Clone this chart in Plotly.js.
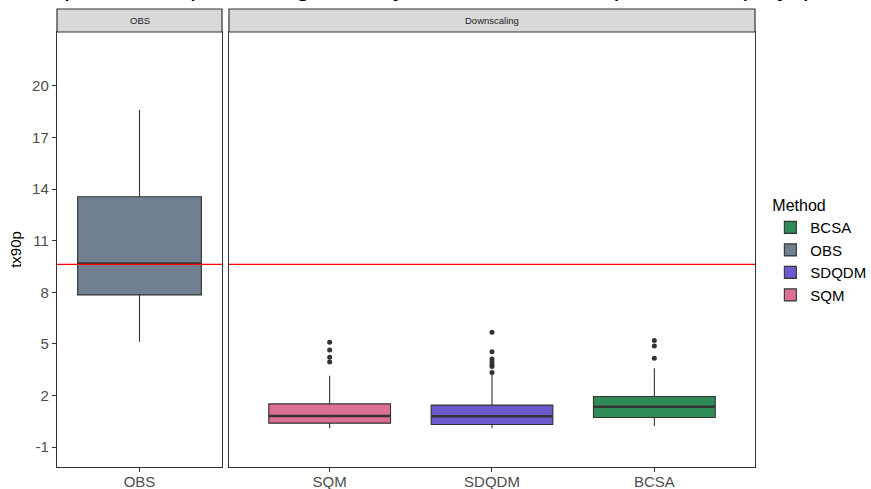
<!DOCTYPE html>
<html>
<head>
<meta charset="utf-8">
<script src="https://cdn.plot.ly/plotly-3.0.1.min.js"></script>
<style>html,body{margin:0;padding:0;background:#fff;}#chart{width:871px;height:489px;}</style>
</head>
<body>
<div id="chart"></div>
<script>
// ---- data ----
const methods   = ['OBS', 'SQM', 'SDQDM', 'BCSA'];
const panels    = ['OBS', 'Downscaling', 'Downscaling', 'Downscaling'];
const colors    = ['#708090', '#DB7093', '#6A5ACD', '#2E8B57'];
const lowerFence = [5.13, 0.10, 0.10, 0.23];
const q1Vals     = [7.85, 0.39, 0.31, 0.72];
const medianVals = [9.68, 0.81, 0.79, 1.34];
const q3Vals     = [13.56, 1.51, 1.44, 1.94];
const upperFence = [18.6, 3.14, 3.20, 3.59];
const outliers = {
  OBS:   [],
  SQM:   [5.10, 4.65, 4.23, 3.94],
  SDQDM: [5.68, 4.55, 4.12, 3.96, 3.82, 3.68, 3.34],
  BCSA:  [5.20, 4.88, 4.17]
};
const legendOrder = ['BCSA', 'OBS', 'SDQDM', 'SQM'];
const refValue = 9.62;   // red reference line (OBS median)
const yTicks = [-1, 2, 5, 8, 11, 14, 17, 20];
const obsCats  = ['OBS'];
const downCats = ['SQM', 'SDQDM', 'BCSA'];
const titleText = 'Comparison of percentage of days above the 90th percentile (days)';

// ---- traces ----
const traces = [];
methods.forEach((m, i) => {
  const xa = panels[i] === 'OBS' ? 'x' : 'x2';
  const ya = panels[i] === 'OBS' ? 'y' : 'y2';
  traces.push({
    type: 'box', name: m, x: [m], xaxis: xa, yaxis: ya,
    q1: [q1Vals[i]], median: [medianVals[i]], q3: [q3Vals[i]],
    lowerfence: [lowerFence[i]], upperfence: [upperFence[i]],
    boxpoints: false, whiskerwidth: 0, width: 0.75,
    fillcolor: colors[i], line: {color: '#333333', width: 1.1},
    legendrank: legendOrder.indexOf(m) + 1, hoverinfo: 'skip'
  });
  // thick median line (ggplot fatten)
  traces.push({
    type: 'box', name: m, x: [m], xaxis: xa, yaxis: ya,
    q1: [medianVals[i]], median: [medianVals[i]], q3: [medianVals[i]],
    lowerfence: [medianVals[i]], upperfence: [medianVals[i]],
    boxpoints: false, whiskerwidth: 0, width: 0.75,
    fillcolor: 'rgba(0,0,0,0)', line: {color: '#333333', width: 2.4},
    showlegend: false, hoverinfo: 'skip'
  });
  if (outliers[m].length) {
    traces.push({
      type: 'scatter', mode: 'markers', x: outliers[m].map(() => m), y: outliers[m],
      xaxis: xa, yaxis: ya, marker: {color: '#333333', size: 5},
      showlegend: false, hoverinfo: 'skip'
    });
  }
});

const axisCommon = {
  showline: true, mirror: true, linecolor: '#333333', linewidth: 1.2,
  ticks: 'outside', ticklen: 4, tickcolor: '#333333', tickwidth: 1,
  showgrid: false, zeroline: false, fixedrange: true, automargin: false,
  tickfont: {family: 'Arial, Liberation Sans, sans-serif', size: 15, color: '#4D4D4D'}
};

const layout = {
  width: 871, height: 489,
  margin: {l: 57, r: 116, t: 32, b: 22, autoexpand: false},
  paper_bgcolor: '#ffffff', plot_bgcolor: '#ffffff',
  font: {family: 'Arial, Liberation Sans, sans-serif', color: '#000'},
  showlegend: true,
  legend: {
    x: 1.022, xanchor: 'left', y: 0.636, yanchor: 'top',
    title: {text: 'Method', font: {size: 16, color: '#000'}},
    font: {size: 15, color: '#000'}, tracegroupgap: 0, itemwidth: 30,
    bgcolor: 'rgba(0,0,0,0)'
  },
  xaxis: Object.assign({}, axisCommon, {
    domain: [0, 0.2364], anchor: 'y', type: 'category',
    categoryorder: 'array', categoryarray: obsCats, range: [-0.5, 0.5],
    ticklabelstandoff: -3
  }),
  xaxis2: Object.assign({}, axisCommon, {
    domain: [0.2464, 1], anchor: 'y2', type: 'category',
    categoryorder: 'array', categoryarray: downCats, range: [-0.62, 2.62],
    ticklabelstandoff: -3
  }),
  yaxis: Object.assign({}, axisCommon, {
    domain: [0, 1], anchor: 'x', range: [-2.16, 23.14],
    tickmode: 'array', tickvals: yTicks, ticktext: yTicks.map(String),
    title: {text: 'tx90p', font: {size: 15, color: '#000'}, standoff: 6}
  }),
  yaxis2: Object.assign({}, axisCommon, {
    domain: [0, 1], anchor: 'x2', matches: 'y', range: [-2.16, 23.14],
    showticklabels: false, ticks: ''
  }),
  shapes: [
    {type: 'line', xref: 'x domain', x0: 0, x1: 1, yref: 'y', y0: refValue, y1: refValue,
     line: {color: '#FF0000', width: 1.3}, layer: 'above'},
    {type: 'line', xref: 'x2 domain', x0: 0, x1: 1, yref: 'y2', y0: refValue, y1: refValue,
     line: {color: '#FF0000', width: 1.3}, layer: 'above'},
    {type: 'rect', xref: 'x domain', x0: 0, x1: 1, yref: 'paper', y0: 1, y1: 1.0529,
     fillcolor: '#D9D9D9', line: {color: '#333333', width: 1.2}},
    {type: 'rect', xref: 'x2 domain', x0: 0, x1: 1, yref: 'paper', y0: 1, y1: 1.0529,
     fillcolor: '#D9D9D9', line: {color: '#333333', width: 1.2}}
  ],
  annotations: [
    {text: 'OBS', xref: 'x domain', x: 0.5, yref: 'paper', y: 1.0264,
     showarrow: false, font: {size: 9.5, color: '#1A1A1A'}, xanchor: 'center', yanchor: 'middle'},
    {text: 'Downscaling', xref: 'x2 domain', x: 0.5, yref: 'paper', y: 1.0264,
     showarrow: false, font: {size: 9.5, color: '#1A1A1A'}, xanchor: 'center', yanchor: 'middle'},
    {text: titleText, xref: 'paper', x: -0.074, xanchor: 'left', yref: 'paper', y: 1.0672, yanchor: 'bottom',
     showarrow: false, font: {size: 27, color: '#000'}}
  ]
};

Plotly.newPlot('chart', traces, layout, {displayModeBar: false, staticPlot: true});
</script>
</body>
</html>
